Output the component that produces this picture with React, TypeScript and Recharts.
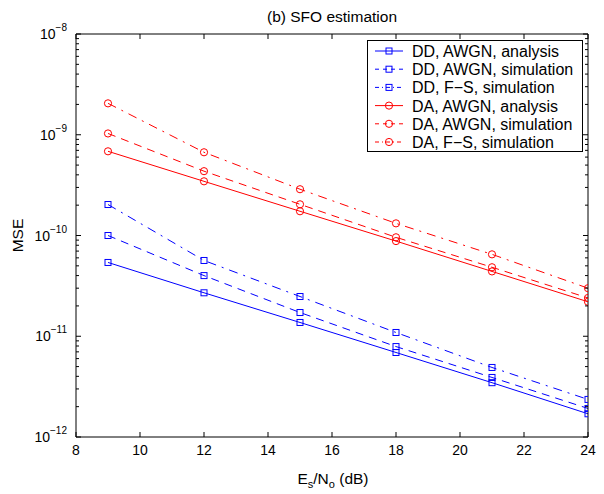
import React from "react";
import { LineChart, Line, XAxis, YAxis, Legend } from "recharts";

const snr = [9, 12, 15, 18, 21, 24];
const ddAwgnAnalysis = [5.4e-11, 2.7e-11, 1.37e-11, 6.9e-12, 3.46e-12, 1.7e-12];
const ddAwgnSim = [1.0e-10, 4.0e-11, 1.72e-11, 7.9e-12, 3.9e-12, 1.92e-12];
const ddFsSim = [2.03e-10, 5.65e-11, 2.48e-11, 1.09e-11, 4.9e-12, 2.36e-12];
const daAwgnAnalysis = [6.85e-10, 3.45e-10, 1.74e-10, 8.8e-11, 4.4e-11, 2.2e-11];
const daAwgnSim = [1.03e-9, 4.35e-10, 2.04e-10, 9.6e-11, 4.84e-11, 2.4e-11];
const daFsSim = [2.05e-9, 6.7e-10, 2.88e-10, 1.32e-10, 6.5e-11, 3.0e-11];

const xTicks = [8, 10, 12, 14, 16, 18, 20, 22, 24];
const yExponents = [-12, -11, -10, -9, -8];

const title = "(b) SFO estimation";
const yLabel = "MSE";

const FONT = "'Liberation Sans', Arial, Helvetica, sans-serif";
const BLUE = "#0000ff";
const RED = "#ff0000";
const DASH = "8 6";
const DASHDOT = "9 6 2 6";

type Series = {
  key: string;
  name: string;
  values: number[];
  color: string;
  dash?: string;
  marker: "square" | "circle";
};

const series: Series[] = [
  { key: "ddA", name: "DD, AWGN, analysis", values: ddAwgnAnalysis, color: BLUE, marker: "square" },
  { key: "ddS", name: "DD, AWGN, simulation", values: ddAwgnSim, color: BLUE, dash: DASH, marker: "square" },
  { key: "ddF", name: "DD, F\u2212S, simulation", values: ddFsSim, color: BLUE, dash: DASHDOT, marker: "square" },
  { key: "daA", name: "DA, AWGN, analysis", values: daAwgnAnalysis, color: RED, marker: "circle" },
  { key: "daS", name: "DA, AWGN, simulation", values: daAwgnSim, color: RED, dash: DASH, marker: "circle" },
  { key: "daF", name: "DA, F\u2212S, simulation", values: daFsSim, color: RED, dash: DASHDOT, marker: "circle" },
];

const data = snr.map((x, i) => {
  const row: Record<string, number> = { x };
  series.forEach((s) => (row[s.key] = s.values[i]));
  return row;
});

const yTicks: number[] = [];
for (let e = yExponents[0]; e < yExponents[yExponents.length - 1]; e++) {
  for (let k = 1; k <= 9; k++) yTicks.push(k * Math.pow(10, e));
}
yTicks.push(Math.pow(10, yExponents[yExponents.length - 1]));

const isMajor = (v: number) => {
  const l = Math.log10(v);
  return Math.abs(l - Math.round(l)) < 1e-6;
};

const Marker = ({ kind, cx, cy, color }: { kind: string; cx: number; cy: number; color: string }) =>
  kind === "square" ? (
    <rect x={cx - 3} y={cy - 3} width={6} height={6} fill="none" stroke={color} strokeWidth={1} />
  ) : (
    <circle cx={cx} cy={cy} r={3.6} fill="none" stroke={color} strokeWidth={1} />
  );

const LeftYTick = (props: any) => {
  const { x, y, payload } = props;
  const v = payload.value;
  const major = isMajor(v);
  const e = Math.round(Math.log10(v));
  return (
    <g>
      <line x1={x} x2={x + (major ? 5 : 3)} y1={y} y2={y} stroke="#000" strokeWidth={1} />
      {major && (
        <text x={x - 9} y={y + 5} textAnchor="end" fontSize={14} fill="#000" fontFamily={FONT}>
          10
          <tspan dy={-8} fontSize={10}>{`\u2212${-e}`}</tspan>
        </text>
      )}
    </g>
  );
};

const RightYTick = (props: any) => {
  const { x, y, payload } = props;
  const major = isMajor(payload.value);
  return <line x1={x} x2={x - (major ? 5 : 3)} y1={y} y2={y} stroke="#000" strokeWidth={1} />;
};

const BottomXTick = (props: any) => {
  const { x, y, payload } = props;
  return (
    <g>
      <line x1={x} x2={x} y1={y} y2={y - 5} stroke="#000" strokeWidth={1} />
      <text x={x} y={y + 18} textAnchor="middle" fontSize={14} fill="#000" fontFamily={FONT}>
        {payload.value}
      </text>
    </g>
  );
};

const TopXTick = (props: any) => {
  const { x, y } = props;
  return <line x1={x} x2={x} y1={y} y2={y + 5} stroke="#000" strokeWidth={1} />;
};

const LegendBox = () => (
  <svg width={217} height={113} style={{ display: "block" }}>
    <rect x={0.5} y={0.5} width={215} height={111} fill="#fff" stroke="#000" strokeWidth={1} />
    {series.map((s, i) => {
      const cy = 11 + i * 18.2;
      return (
        <g key={s.key}>
          <line x1={8} x2={36} y1={cy} y2={cy} stroke={s.color} strokeWidth={1} strokeDasharray={s.dash ? (s.dash === DASH ? "4 4" : "4 3 1 3") : undefined} />
          <Marker kind={s.marker} cx={22} cy={cy} color={s.color} />
          <text x={45} y={cy + 6} fontSize={16} fill="#000" fontFamily={FONT}>
            {s.name}
          </text>
        </g>
      );
    })}
  </svg>
);

export default function App() {
  return (
    <div style={{ position: "absolute", left: 0, top: 0, width: 604, height: 494, background: "#fff" }}>
      <LineChart
        width={604}
        height={494}
        data={data}
        margin={{ top: 4, right: 15, bottom: 7, left: 0 }}
        style={{ fontFamily: FONT }}
      >
        <XAxis
          dataKey="x"
          type="number"
          domain={[8, 24]}
          ticks={xTicks}
          interval={0}
          height={50}
          tickSize={0}
          tickMargin={0}
          tickLine={false}
          tick={<BottomXTick />}
          axisLine={{ stroke: "#000", strokeWidth: 1 }}
          allowDataOverflow
          label={{
            content: (p: any) => {
              const vb = p.viewBox;
              const cx = vb.x + vb.width / 2 + 1;
              return (
                <text x={cx} y={vb.y + 47} textAnchor="middle" fontSize={15.5} fill="#000" fontFamily={FONT}>
                  E<tspan dy={4} fontSize={11}>s</tspan>
                  <tspan dy={-4}>/N</tspan>
                  <tspan dy={4} fontSize={11}>o</tspan>
                  <tspan dy={-4}> (dB)</tspan>
                </text>
              );
            },
          }}
        />
        <XAxis
          xAxisId="top"
          orientation="top"
          dataKey="x"
          type="number"
          domain={[8, 24]}
          ticks={xTicks}
          interval={0}
          height={30}
          tickSize={0}
          tickMargin={0}
          tickLine={false}
          tick={<TopXTick />}
          axisLine={{ stroke: "#000", strokeWidth: 1 }}
          allowDataOverflow
          label={{
            content: (p: any) => {
              const vb = p.viewBox;
              return (
                <text x={vb.x + vb.width / 2} y={vb.y + vb.height - 12} textAnchor="middle" fontSize={15.5} fill="#000" fontFamily={FONT}>
                  {title}
                </text>
              );
            },
          }}
        />
        <YAxis
          type="number"
          scale="log"
          domain={[1e-12, 1e-8]}
          ticks={yTicks}
          interval={0}
          width={76}
          tickSize={0}
          tickMargin={0}
          tickLine={false}
          tick={<LeftYTick />}
          axisLine={{ stroke: "#000", strokeWidth: 1 }}
          allowDataOverflow
          label={{
            content: (p: any) => {
              const vb = p.viewBox;
              const cy = vb.y + vb.height / 2;
              return (
                <text x={23} y={cy} textAnchor="middle" fontSize={15.5} fill="#000" fontFamily={FONT} transform={`rotate(-90, 23, ${cy})`}>
                  {yLabel}
                </text>
              );
            },
          }}
        />
        <YAxis
          yAxisId="right"
          orientation="right"
          type="number"
          scale="log"
          domain={[1e-12, 1e-8]}
          ticks={yTicks}
          interval={0}
          width={1}
          tickSize={0}
          tickMargin={0}
          tickLine={false}
          tick={<RightYTick />}
          axisLine={{ stroke: "#000", strokeWidth: 1 }}
          allowDataOverflow
        />
        <Legend
          verticalAlign="middle"
          align="center"
          layout="horizontal"
          wrapperStyle={{ left: 367, top: 40, width: 217, height: 113 }}
          content={() => <LegendBox />}
        />
        {series.map((s) => (
          <Line
            key={s.key}
            dataKey={s.key}
            name={s.name}
            type="linear"
            stroke={s.color}
            strokeWidth={1}
            strokeDasharray={s.dash}
            isAnimationActive={false}
            activeDot={false}
            dot={(p: any) => <Marker key={`${s.key}-${p.index}`} kind={s.marker} cx={p.cx} cy={p.cy} color={s.color} />}
          />
        ))}
      </LineChart>
    </div>
  );
}
